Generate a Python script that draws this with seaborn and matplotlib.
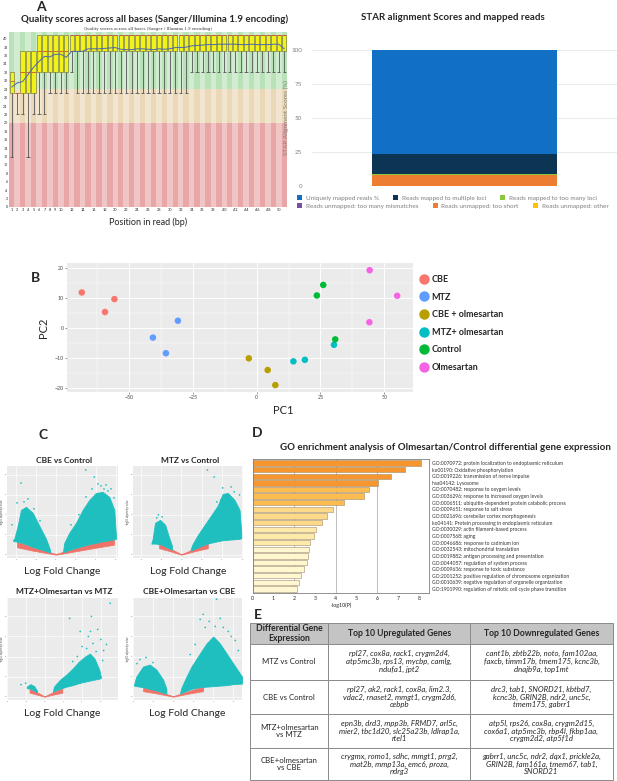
import numpy as np
import pandas as pd
import matplotlib
matplotlib.use("Agg")
import matplotlib.pyplot as plt
from matplotlib.patches import Patch
import seaborn as sns

W, H = 617, 781
sns.set_theme(style="white")
plt.rcParams["font.family"] = ["Lato", "DejaVu Sans"]

# ---------------- data ----------------
# A: per-base quality (FastQC style), positions 1..51
positions = list(range(1, 52))
q_low = [12, 22, 22, 12, 22, 22, 22, 27, 27, 27, 27, 32] + [27] * 21 + [32] * 18
q_q25 = [27, 27, 27, 27, 27, 32, 32, 32, 32, 32, 32] + [37] * 40
q_med = [30, 27, 32, 32, 32, 37, 37, 37, 37, 37, 37] + [41] * 40
q_q75 = [32, 27, 37, 37, 37] + [41] * 46
q_mean = [28.5, 29.5, 29.8, 31.5, 33.2, 34.6, 35.8, 35.7, 36.3, 36.3, 35.6, 37.0, 37.0,
          37.0, 37.6, 37.6, 37.6, 37.7, 37.8, 37.9, 37.5, 37.4, 37.4, 37.6, 37.6, 37.5,
          37.4, 37.6, 37.5, 37.6, 37.9, 37.9, 38.0, 38.3, 38.4, 38.5, 38.6, 38.6, 38.7,
          38.7, 38.7, 38.7, 38.6, 38.6, 38.7, 38.6, 38.6, 38.6, 38.7, 38.7, 37.6]
qx_labels = [str(p) if (p <= 10 or p % 2 == 0) and p <= 50 else "" for p in positions]

# A: STAR alignment (stack order bottom -> top)
star_labels = ["Reads unmapped: too short", "Reads mapped to too many loci",
               "Reads mapped to multiple loci", "Uniquely mapped reads %"]
star_values = [8.1, 0.9, 14.5, 76.5]
star_colors = ["#ed7d31", "#8dc63f", "#0b3553", "#1170c4"]
legend_row1 = ["Uniquely mapped reads %", "Reads mapped to multiple loci", "Reads mapped to too many loci"]
legend_row1_colors = ["#1170c4", "#0b3553", "#8dc63f"]
legend_row2 = ["Reads unmapped: too many mismatches", "Reads unmapped: too short", "Reads unmapped: other"]
legend_row2_colors = ["#7b4fa0", "#ed7d31", "#ffc000"]

# B: PCA
pca_group = ["CBE"] * 3 + ["MTZ"] * 3 + ["CBE + olmesartan"] * 3 + ["MTZ+ olmesartan"] * 3 \
    + ["Control"] * 3 + ["Olmesartan"] * 3
pc1 = [-68.6, -55.8, -59.5, -40.7, -35.6, -30.9, -3.1, 4.3, 7.3,
       14.4, 18.9, 30.3, 23.6, 26.1, 30.8, 44.3, 55.1, 44.2]
pc2 = [11.8, 9.6, 5.3, -3.2, -8.4, 2.4, -10.1, -14.0, -19.0,
       -11.1, -10.6, -5.6, 10.8, 14.3, -3.8, 19.2, 10.7, 1.9]
pca_palette = ["#f8766d", "#619cff", "#b79f00", "#00bfc4", "#00ba38", "#f564e3"]

# C: volcano plots (envelopes of the dense clouds + scattered outliers)
v1_red_x = [-3.9, -2.3, 0.0, 2.3, 4.0, 5.8]
v1_red_lo = [0.75, 0.4, 0.0, 0.4, 0.7, 1.0]
v1_red_hi = [1.3, 0.75, 0.08, 0.75, 1.2, 1.55]
v1_l_x = [-4.3, -4.17, -3.83, -3.5, -3.0, -2.33, -1.67, -1.0, -0.6]
v1_l_hi = [1.5, 1.6, 2.9, 4.5, 4.8, 4.2, 2.9, 1.6, 0.5]
v1_l_lo = [1.4, 1.35, 1.3, 1.2, 1.05, 0.78, 0.58, 0.38, 0.22]
v1_r_x = [0.7, 0.83, 1.33, 2.0, 2.67, 3.33, 4.0, 4.67, 5.33, 5.83, 6.0]
v1_r_hi = [0.3, 1.2, 2.2, 3.2, 4.5, 5.5, 6.2, 6.3, 5.8, 4.5, 1.8]
v1_r_lo = [0.22, 0.3, 0.48, 0.68, 0.88, 1.05, 1.2, 1.35, 1.45, 1.55, 1.6]
v1_out_x = [2.97, 3.83, -3.5, 4.5, 5.5, 5.0, -2.8, -3.9, 3.6, 4.2, 5.8, -1.6, -4.4, 1.5, 2.3, -3.2, 3.0, 4.8, 5.2, -2.2]
v1_out_y = [8.5, 7.8, 7.2, 6.9, 6.6, 7.0, 5.6, 5.2, 6.6, 7.1, 5.7, 3.4, 3.0, 3.0, 4.0, 5.3, 5.8, 6.6, 6.4, 4.6]

v2_red_x = [-2.2, -1.1, 0.0, 1.3, 2.6]
v2_red_lo = [0.65, 0.35, 0.0, 0.35, 0.65]
v2_red_hi = [1.15, 0.62, 0.05, 0.62, 1.15]
v2_l_x = [-2.95, -2.83, -2.6, -2.1, -1.6, -1.27, -0.93]
v2_l_hi = [1.2, 1.6, 3.2, 3.5, 3.0, 1.9, 0.9]
v2_l_lo = [1.1, 1.12, 1.12, 1.05, 0.82, 0.68, 0.5]
v2_r_x = [0.9, 1.07, 1.57, 2.23, 2.9, 3.57, 4.07, 4.57, 5.23, 5.73, 5.9]
v2_r_hi = [0.5, 1.0, 1.9, 2.9, 3.9, 4.9, 6.1, 6.2, 5.5, 4.5, 2.2]
v2_r_lo = [0.42, 0.5, 0.7, 1.0, 1.2, 1.35, 1.45, 1.5, 1.55, 1.6, 1.65]
v2_out_x = [2.57, 3.23, 4.07, 4.9, 5.73, -2.27, -2.43, 4.9, 5.4, 3.9, 5.2, 3.5, -1.9]
v2_out_y = [8.5, 7.8, 6.7, 6.8, 6.0, 4.0, 3.7, 5.5, 4.9, 5.5, 6.3, 5.3, 3.8]

v3_red_x = [-1.6, -0.8, 0.0, 0.9, 1.9]
v3_red_lo = [0.4, 0.2, 0.0, 0.2, 0.4]
v3_red_hi = [0.85, 0.45, 0.03, 0.45, 0.85]
v3_l_x = [-1.9, -1.5, -1.1, -0.8]
v3_l_hi = [1.0, 1.25, 1.05, 0.6]
v3_l_lo = [0.85, 0.8, 0.6, 0.42]
v3_r_x = [0.9, 1.0, 1.67, 2.33, 3.0, 3.67, 4.33, 4.83, 5.33, 5.83, 6.0]
v3_r_hi = [0.5, 1.0, 1.7, 2.2, 2.8, 3.5, 4.0, 4.3, 3.8, 2.7, 2.0]
v3_r_lo = [0.42, 0.55, 0.8, 1.0, 1.15, 1.35, 1.5, 1.6, 1.7, 1.8, 1.85]
v3_out_x = [5.0, 7.0, 5.67, 6.0, 4.67, 4.0, 5.17, 2.67, 6.3, 6.6, 4.5, 3.5, 5.5, 6.2, 3.0, -2.5, -2.0, 3.8, 4.9]
v3_out_y = [8.0, 9.3, 6.7, 5.7, 6.0, 5.0, 5.3, 7.8, 4.6, 5.2, 4.8, 4.0, 4.5, 3.6, 3.5, 1.2, 1.35, 6.5, 6.5]

v4_red_x = [-3.0, -1.5, 0.0, 1.5, 3.0]
v4_red_lo = [0.55, 0.3, 0.0, 0.3, 0.55]
v4_red_hi = [1.0, 0.55, 0.05, 0.55, 1.0]
v4_l_x = [-3.9, -3.67, -3.0, -2.33, -1.67, -1.0, -0.67]
v4_l_hi = [1.2, 2.0, 3.0, 3.2, 2.7, 1.7, 0.8]
v4_l_lo = [1.1, 1.05, 0.95, 0.78, 0.62, 0.4, 0.3]
v4_r_x = [0.7, 0.83, 1.33, 1.83, 2.67, 3.33, 4.0, 4.67, 5.33, 6.0, 6.67, 6.87]
v4_r_hi = [0.4, 0.9, 2.0, 3.0, 4.3, 5.3, 6.0, 5.3, 4.3, 3.3, 2.3, 2.0]
v4_r_lo = [0.3, 0.38, 0.58, 0.78, 0.95, 1.0, 1.05, 1.1, 1.15, 1.25, 1.3, 1.3]
v4_out_x = [4.33, 3.0, 2.7, 3.6, 4.7, 5.5, 4.2, 3.2, 5.0, 6.2, 6.5, 5.8, 2.2, -3.3, -2.7, -3.6, -2.0, 1.7]
v4_out_y = [9.7, 8.2, 7.7, 7.5, 7.8, 6.5, 7.0, 6.9, 6.9, 5.6, 4.6, 6.0, 5.2, 3.7, 3.9, 3.3, 3.4, 4.2]

# D: GO enrichment
go_terms = ["GO:0070972: protein localization to endoplasmic reticulum",
            "ko00190: Oxidative phosphorylation",
            "GO:0019226: transmission of nerve impulse",
            "hsa04142: Lysosome",
            "GO:0070482: response to oxygen levels",
            "GO:0036296: response to increased oxygen levels",
            "GO:0006511: ubiquitin-dependent protein catabolic process",
            "GO:0009651: response to salt stress",
            "GO:0021696: cerebellar cortex morphogenesis",
            "ko04141: Protein processing in endoplasmic reticulum",
            "GO:0030029: actin filament-based process",
            "GO:0007568: aging",
            "GO:0046686: response to cadmium ion",
            "GO:0032543: mitochondrial translation",
            "GO:0019882: antigen processing and presentation",
            "GO:0044057: regulation of system process",
            "GO:0009636: response to toxic substance",
            "GO:2001252: positive regulation of chromosome organization",
            "GO:0010639: negative regulation of organelle organization",
            "GO:1901990: regulation of mitotic cell cycle phase transition"]
go_logp = [8.12, 7.32, 6.65, 6.01, 5.61, 5.35, 4.41, 3.88, 3.60, 3.33,
           3.03, 2.94, 2.77, 2.73, 2.66, 2.63, 2.46, 2.31, 2.24, 2.14]
go_colors = ["#f7962e"] * 4 + ["#fcbc50"] * 3 + ["#fed98a"] * 3 + ["#feeaa8"] * 3 + ["#fff7cf"] * 7

# E: table
tbl_header = ["Differential Gene\nExpression", "Top 10 Upregulated Genes", "Top 10 Downregulated Genes"]
tbl_comparisons = ["MTZ vs Control", "CBE vs Control", "MTZ+olmesartan\nvs MTZ", "CBE+olmesartan\nvs CBE"]
tbl_up = ["rpl27, cox8a, rack1, crygm2d4,\natp5mc3b, rps13, mycbp, camlg,\nndufa1, jpt2",
          "rpl27, ak2, rack1, cox8a, lim2.3,\nvdac2, rnaset2, mmgt1, crygm2d6,\ncebpb",
          "epn3b, drd3, mpp3b, FRMD7, arl5c,\nmier2, tbc1d20, slc25a23b, ldlrap1a,\nrtel1",
          "crygmx, romo1, sdhc, mmgt1, prrg2,\nmat2b, mmp13a, emc6, proza,\nndrg3"]
tbl_down = ["cant1b, zbtb22b, noto, fam102aa,\nfaxcb, timm17b, tmem175, kcnc3b,\ndnajb9a, top1mt",
            "drc3, tab1, SNORD21, kbtbd7,\nkcnc3b, GRIN2B, ndr2, unc5c,\ntmem175, gabrr1",
            "atp5l, rps26, cox8a, crygm2d15,\ncox6a1, atp5mc3b, rbp4l, fkbp1aa,\ncrygm2d2, atp5f1d",
            "gabrr1, unc5c, ndr2, dqx1, prickle2a,\nGRIN2B, fam161a, tmem67, tab1,\nSNORD21"]

# ---------------- figure ----------------
fig = plt.figure(figsize=(W / 100, H / 100), dpi=100)
fig.patch.set_facecolor("white")


def px_axes(l, t, w, h):
    return fig.add_axes([l / W, 1 - (t + h) / H, w / W, h / H])


def ftext(x, y, s, **kw):
    kw.setdefault("ha", "center")
    kw.setdefault("va", "center")
    return fig.text(x / W, 1 - y / H, s, **kw)


# panel letters
for letter, x, y in [("A", 41, 7), ("B", 36, 278), ("C", 43, 435), ("D", 257, 433), ("E", 258, 615)]:
    ftext(x, y, letter, fontsize=10, fontweight="bold")

# ---- A left: quality scores ----
ftext(155, 19, "Quality scores across all bases (Sanger/Illumina 1.9 encoding)", fontsize=7, fontweight="bold")
ax = px_axes(9, 32, 278, 175)
ax.axhspan(0, 20, color="#e8a6a6", lw=0)
ax.axhspan(20, 28, color="#ead8b8", lw=0)
ax.axhspan(28, 42, color="#b9e2b9", lw=0)
for p in positions[1::2]:
    ax.axvspan(p - 0.5, p + 0.5, color="white", alpha=0.35, lw=0)
pos = np.array(positions)
ax.vlines(pos, q_low, q_q25, color="#555555", lw=0.6)
ax.hlines(q_low, pos - 0.3, pos + 0.3, color="#555555", lw=0.6)
ax.bar(pos, np.subtract(q_q75, q_q25), bottom=q_q25, width=0.8,
       color="#f2f21a", edgecolor="#666633", lw=0.4)
ax.hlines(q_med, pos - 0.4, pos + 0.4, color="#d05030", lw=0.6)
ax.plot(pos, q_mean, color="#4a66b0", lw=0.7)
ax.set_xlim(0.5, 51.5)
ax.set_ylim(0, 41.6)
ax.set_yticks(range(0, 41, 2))
ax.set_yticklabels([str(v) for v in range(0, 41, 2)], fontsize=2.6)
ax.set_xticks(positions)
ax.set_xticklabels(qx_labels, fontsize=2.8)
ax.tick_params(length=0, pad=1)
for s in ax.spines.values():
    s.set_visible(False)
ax.set_title("Quality scores across all bases (Sanger / Illumina 1.9 encoding)",
             fontsize=2.8, family="DejaVu Serif", color="#333333", pad=1.5)
ftext(148, 222, "Position in read (bp)", fontsize=6.5)

# ---- A right: STAR ----
ftext(453, 18, "STAR alignment Scores and mapped reads", fontsize=7, fontweight="bold")
ax = px_axes(312, 50, 305, 136)
bottom = 0
for lab, val, col in zip(star_labels, star_values, star_colors):
    ax.bar([0], [val], bottom=bottom, width=1.0, color=col, lw=0)
    bottom += val
ax.set_xlim(-0.82, 0.82)
ax.set_ylim(0, 100)
ax.set_yticks([0, 25, 50, 75, 100])
ax.set_yticklabels(["0", "25", "50", "75", "100"], fontsize=4.5, color="#808080")
ax.set_xticks([])
ax.yaxis.grid(True, color="#e6e6e6", lw=0.6)
ax.set_axisbelow(True)
ax.tick_params(length=0, pad=7)
for s in ax.spines.values():
    s.set_visible(False)
ax.set_ylabel("STAR Alignment Scores (%)", fontsize=4.5, color="#808080", labelpad=1.5)
for row, cols, ypx in [(legend_row1, legend_row1_colors, 198), (legend_row2, legend_row2_colors, 206)]:
    handles = [Patch(facecolor=c, edgecolor="none") for c in cols]
    fig.legend(handles, row, loc="center left", bbox_to_anchor=(297 / W, 1 - ypx / H),
               ncol=3, frameon=False, fontsize=4.6, handlelength=0.8, handleheight=0.8,
               handletextpad=0.6, columnspacing=2.2, borderpad=0, borderaxespad=0,
               labelcolor="#7f7f7f")

# ---- B: PCA ----
pca_df = pd.DataFrame({"PC1": pc1, "PC2": pc2, "group": pca_group})
ax = px_axes(67, 263, 346, 129)
ax.set_facecolor("#ebebeb")
sns.scatterplot(data=pca_df, x="PC1", y="PC2", hue="group", palette=pca_palette,
                s=22, edgecolor="none", ax=ax, zorder=3)
ax.set_xlim(-74.4, 61.3)
ax.set_ylim(-21.3, 21.6)
ax.set_xticks([-50, -25, 0, 25, 50])
ax.set_yticks([-20, -10, 0, 10, 20])
ax.set_xticks([-62.5, -37.5, -12.5, 12.5, 37.5], minor=True)
ax.set_yticks([-15, -5, 5, 15], minor=True)
ax.grid(True, which="major", color="white", lw=0.7)
ax.grid(True, which="minor", color="white", lw=0.35)
ax.tick_params(which="major", labelsize=3.8, labelcolor="#4d4d4d", length=1.5, width=0.4,
               color="#4d4d4d", pad=1, bottom=True, left=True)
ax.tick_params(which="minor", length=0)
for s in ax.spines.values():
    s.set_visible(False)
ax.set_xlabel("")
ax.set_ylabel("PC2", fontsize=8, labelpad=4)
ftext(283, 411, "PC1", fontsize=8)
h, l = ax.get_legend_handles_labels()
ax.legend(h, l, loc="upper left", bbox_to_anchor=(419 / W, 1 - 275 / H), bbox_transform=fig.transFigure,
          frameon=False, prop={"weight": "bold", "size": 6.5}, markerscale=1.6,
          labelspacing=0.95, handletextpad=0.4, borderpad=0, borderaxespad=0, handlelength=1.0)

# ---- C: volcano plots ----
volcanos = [
    ("CBE vs Control", (7, 466, 111, 92), (-4.9, 6.2), (-0.33, 8.9),
     v1_red_x, v1_red_lo, v1_red_hi, v1_l_x, v1_l_lo, v1_l_hi, v1_r_x, v1_r_lo, v1_r_hi, v1_out_x, v1_out_y),
    ("MTZ vs Control", (133, 466, 110, 92), (-4.77, 6.07), (-0.33, 8.9),
     v2_red_x, v2_red_lo, v2_red_hi, v2_l_x, v2_l_lo, v2_l_hi, v2_r_x, v2_r_lo, v2_r_hi, v2_out_x, v2_out_y),
    ("MTZ+Olmesartan vs MTZ", (7, 598, 111, 102), (-3.67, 7.83), (-0.33, 9.83),
     v3_red_x, v3_red_lo, v3_red_hi, v3_l_x, v3_l_lo, v3_l_hi, v3_r_x, v3_r_lo, v3_r_hi, v3_out_x, v3_out_y),
    ("CBE+Olmesartan vs CBE", (133, 598, 109, 102), (-4.0, 6.87), (-0.33, 9.83),
     v4_red_x, v4_red_lo, v4_red_hi, v4_l_x, v4_l_lo, v4_l_hi, v4_r_x, v4_r_lo, v4_r_hi, v4_out_x, v4_out_y),
]
teal = "#1fbfbf"
red = "#f0736a"
for (title, box, xl, yl, rx, rlo, rhi, lx, llo, lhi, qx, qlo, qhi, ox, oy) in volcanos:
    ax = px_axes(*box)
    ax.set_facecolor("#ebebeb")
    ax.fill_between(rx, rlo, rhi, color=red, lw=0.5, edgecolor=red, zorder=2)
    ax.fill_between(lx, llo, lhi, color=teal, lw=0.6, edgecolor=teal, zorder=3)
    ax.fill_between(qx, qlo, qhi, color=teal, lw=0.6, edgecolor=teal, zorder=3)
    sns.scatterplot(x=ox, y=oy, color=teal, s=1.5, edgecolor="none", ax=ax, zorder=4)
    ax.set_xlim(*xl)
    ax.set_ylim(*yl)
    ax.set_xticks([-4, -2, 0, 2, 4, 6])
    ax.set_yticks([0, 2, 4, 6, 8])
    ax.set_xticklabels(["-4", "-2", "0", "2", "4", "6"], fontsize=1.6, color="#666666")
    ax.set_yticklabels(["0", "2", "4", "6", "8"], fontsize=1.6, color="#666666")
    ax.grid(True, color="white", lw=0.5)
    ax.tick_params(length=0, pad=0.6)
    for s in ax.spines.values():
        s.set_visible(False)
    ax.set_ylabel("-log10 adjusted p-value", fontsize=1.8, color="#444444", labelpad=0.5)
    l, t, w, hh = box
    ftext(l + w / 2 + 2, t - 6, title, fontsize=6, fontweight="bold")
    ftext(l + w / 2, t + hh + 13, "Log Fold Change", fontsize=7.5)

# ---- D: GO enrichment ----
ftext(445, 447, "GO enrichment analysis of Olmesartan/Control differential gene expression",
      fontsize=7, fontweight="bold")
go_df = pd.DataFrame({"term": go_terms, "logp": go_logp})
ax = px_axes(252.7, 459.3, 176.6, 133.4)
sns.barplot(data=go_df, x="logp", y="term", hue="term", palette=go_colors, legend=False,
            orient="h", width=0.8, saturation=1, edgecolor="#a08c6c", linewidth=0.4, ax=ax)
ax.set_xlim(0, 8.5)
ax.set_ylim(19.55, -0.55)
ax.set_xticks(range(0, 9))
ax.set_xticklabels([str(v) for v in range(0, 9)], fontsize=3.8)
for gx in [2, 4, 6]:
    ax.axvline(gx, color="#bdbdbd", lw=0.7, zorder=0)
ax.yaxis.tick_right()
ax.set_yticks(range(len(go_terms)))
ax.set_yticklabels(go_terms, fontsize=3.6, color="#333333")
ax.tick_params(axis="y", length=0, pad=2)
ax.tick_params(axis="x", length=1.5, width=0.4, pad=1)
ax.set_ylabel("")
ax.set_xlabel("-log10(P)", fontsize=3.8, labelpad=1)
for s in ax.spines.values():
    s.set_color("#7f7f7f")
    s.set_linewidth(0.6)

# ---- E: table ----
ax = px_axes(250, 622.7, 363, 157.3)
ax.axis("off")
cell_text = [[c, u, d] for c, u, d in zip(tbl_comparisons, tbl_up, tbl_down)]
tbl = ax.table(cellText=cell_text, colLabels=tbl_header, cellLoc="center",
               colWidths=[78.3 / 363, 141.7 / 363, 143.0 / 363], bbox=[0, 0, 1, 1])
tbl.auto_set_font_size(False)
tbl.set_fontsize(5.6)
row_h = [20.8, 36.5, 34.0, 34.0, 32.0]
for (r, c), cell in tbl.get_celld().items():
    cell.set_height(row_h[r] / 157.3)
    cell.set_edgecolor("#8a8a8a")
    cell.set_linewidth(0.7)
    txt = cell.get_text()
    txt.set_linespacing(1.15)
    if r == 0:
        cell.set_facecolor("#c4c4c4")
        txt.set_fontweight("bold")
        txt.set_fontsize(6.2)
    elif c > 0:
        txt.set_fontstyle("italic")

fig.savefig("out.png", dpi=100)
